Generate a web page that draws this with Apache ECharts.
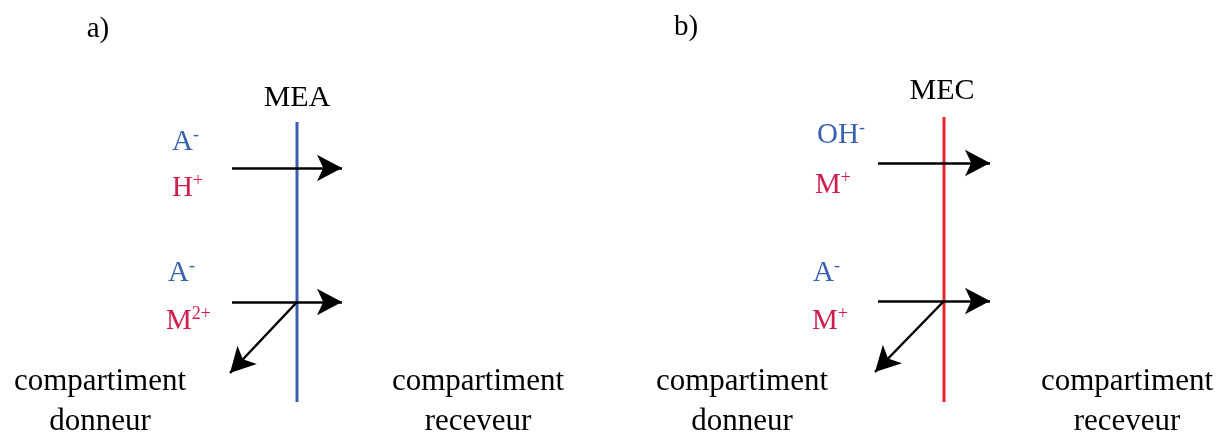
<!DOCTYPE html>
<html>
<head>
<meta charset="utf-8">
<script src="https://cdn.jsdelivr.net/npm/echarts@6/dist/echarts.min.js"></script>
<style>
  html, body { margin: 0; padding: 0; background: #fff; }
  #chart { width: 1225px; height: 434px; }
</style>
</head>
<body>
<div id="chart"></div>
<script>
// panel titles and membrane names
const panelTitles = ["a)", "b)"];
const membraneNames = ["MEA", "MEC"];
// ions: [main, superscript, colour key]
const ionsTop = [
  [["A", "-", "anion"], ["H", "+", "cation"]],
  [["OH", "-", "anion"], ["M", "+", "cation"]]
];
const ionsBottom = [
  [["A", "-", "anion"], ["M", "2+", "cation"]],
  [["A", "-", "anion"], ["M", "+", "cation"]]
];
const compartmentLabels = ["compartiment\ndonneur", "compartiment\nreceveur"];

// diagram geometry (pixel space of the hidden axes)
const membraneX = [297, 944];
const membraneTop = [122, 117];
const membraneBottom = 402;
const arrowTopY = [168, 163];
const arrowBottomY = [302, 301];
const arrowStartX = [232, 878];
const arrowTipX = [342, 990];
const diagTip = [[230, 373], [875, 372]];

const colors = {
  anion: "#3a60b0",
  cation: "#d01d4c",
  membrane: ["#3a5cb4", "#e5252f"],
  arrow: "#000000",
  text: "#000000"
};
const font = "Liberation Serif";

let myChart = echarts.init(document.getElementById("chart"));

function arrowLine(x1, y1, x2, y2) {
  return { coords: [[x1, y1], [x2, y2]] };
}

let membraneSeries = membraneX.map((x, i) => ({
  type: "line",
  data: [[x, membraneTop[i]], [x, membraneBottom]],
  symbol: "none",
  lineStyle: { color: colors.membrane[i], width: 3 },
  silent: true,
  z: 1
}));

let arrowData = [];
for (let i = 0; i < 2; i++) {
  arrowData.push(arrowLine(arrowStartX[i], arrowTopY[i], arrowTipX[i], arrowTopY[i]));
  arrowData.push(arrowLine(arrowStartX[i], arrowBottomY[i], arrowTipX[i], arrowBottomY[i]));
  arrowData.push(arrowLine(membraneX[i], arrowBottomY[i], diagTip[i][0], diagTip[i][1]));
}

let textItems = [];
function addText(x, y, text, style) {
  textItems.push({ value: [x, y], label: Object.assign({ formatter: text }, style) });
}

for (let i = 0; i < 2; i++) {
  addText([98, 686][i], [29, 27][i], panelTitles[i], { fontSize: 29, align: "center" });
  addText(membraneX[i] + (i ? -2 : 0), [98, 91][i], membraneNames[i], { fontSize: 30, align: "center" });
}

const ionLeft = [[172, 172, 168, 166], [817, 815, 813, 812]];
const ionBase = [[152, 198, 283, 331], [145, 195, 283, 331]];
for (let i = 0; i < 2; i++) {
  let ions = ionsTop[i].concat(ionsBottom[i]);
  ions.forEach((ion, k) => {
    let c = colors[ion[2]];
    addText(ionLeft[i][k], ionBase[i][k] - 10, "{m|" + ion[0] + "}{s|" + ion[1] + "}", {
      align: "left",
      rich: {
        m: { fontSize: 29, lineHeight: 32, color: c, fontFamily: font },
        s: { fontSize: 18, lineHeight: 14, color: c, fontFamily: font, verticalAlign: "top" }
      }
    });
  });
}

const compX = [[100, 478], [742, 1127]];
for (let i = 0; i < 2; i++) {
  compartmentLabels.forEach((t, k) => {
    addText(compX[i][k], 402, t, { fontSize: 31, lineHeight: 40, align: "center" });
  });
}

const option = {
  animation: false,
  grid: { left: 0, right: 0, top: 0, bottom: 0 },
  xAxis: { type: "value", min: 0, max: 1225, show: false },
  yAxis: { type: "value", min: 0, max: 434, inverse: true, show: false },
  series: membraneSeries.concat([
    {
      type: "lines",
      coordinateSystem: "cartesian2d",
      data: arrowData,
      symbol: ["none", "arrow"],
      symbolSize: [1, [20, 25]],
      lineStyle: { color: colors.arrow, width: 2.5, opacity: 1 },
      itemStyle: { color: colors.arrow },
      silent: true,
      z: 3
    },
    {
      type: "scatter",
      data: textItems,
      symbolSize: 0,
      silent: true,
      itemStyle: { opacity: 1 },
      label: {
        show: true,
        position: "inside",
        verticalAlign: "middle",
        color: colors.text,
        fontFamily: font,
        opacity: 1
      },
      z: 4
    }
  ])
};

myChart.setOption(option, true);
</script>
</body>
</html>
